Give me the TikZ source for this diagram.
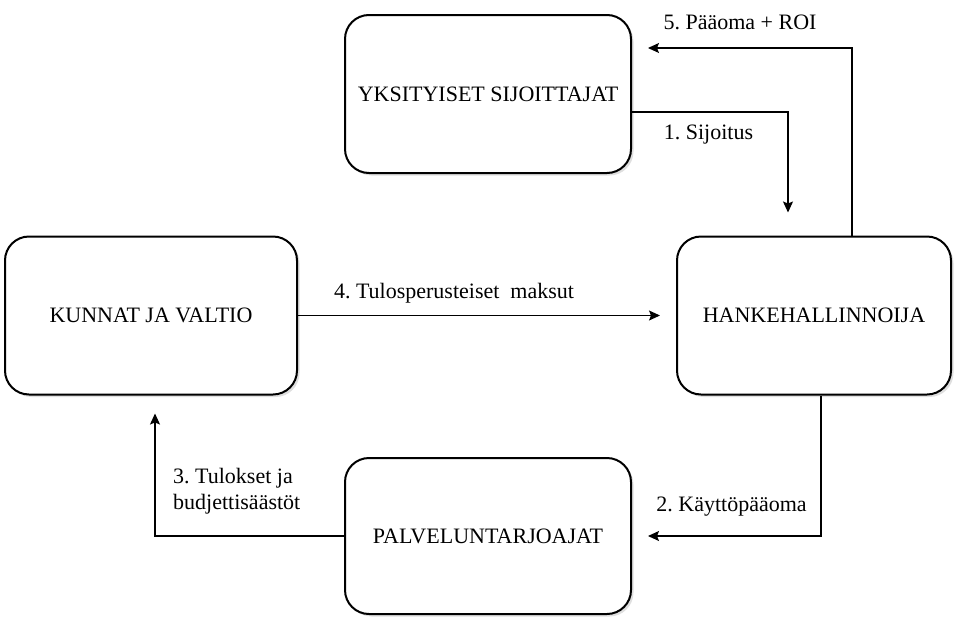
\documentclass[tikz,border=0pt]{standalone}
\usepackage{fontspec}
\setmainfont{Liberation Serif}
\usetikzlibrary{arrows.meta,shadows}
\frenchspacing
\begin{document}
\begin{tikzpicture}[x=1pt,y=-1pt,
  box/.style={draw,line width=2pt,rounded corners=24pt,fill=white,
    drop shadow={shadow xshift=2.5pt,shadow yshift=-2.5pt,opacity=0.25},
    font=\fontsize{22}{26}\selectfont,inner sep=0pt},
  arr/.style={line width=1.2pt,-{Stealth[length=11pt,width=10pt,inset=2pt]}},
  lbl/.style={font=\fontsize{22}{26}\selectfont,inner sep=0pt}]
\useasboundingbox (0,0) rectangle (955,616);
\node[box,minimum width=286pt,minimum height=158pt] (Y) at (488,94) {YKSITYISET SIJOITTAJAT};
\node[box,minimum width=292pt,minimum height=158pt] (K) at (151,315.5) {KUNNAT JA VALTIO};
\node[box,minimum width=274pt,minimum height=158pt] (H) at (814,315.5) {HANKEHALLINNOIJA};
\node[box,minimum width=286pt,minimum height=156pt] (P) at (488,536) {PALVELUNTARJOAJAT};
\coordinate (j1) at (788,112);
\coordinate (j5) at (852,48);
\coordinate (j2) at (821,536);
\coordinate (j3) at (155,536);
\draw[arr] (Y.east |- j1) -| ([yshift=23pt]H.north -| j1);
\draw[arr] (H.north -| j5) |- ([xshift=16pt]Y.east |- j5);
\draw[arr] (K.east) -- ([xshift=-16pt]H.west);
\draw[arr] (H.south -| j2) |- ([xshift=16pt]P.east);
\draw[arr] (P.west) -| ([yshift=-18pt]K.south -| j3);
\node[lbl] (l5) at (740,22) {5. Pääoma + ROI};
\node[lbl] (l1) at (708.5,135) {1. Sijoitus};
\node[lbl] (l4) at (454,293) {4. Tulosperusteiset\ \ maksut};
\node[lbl] (l2) at (731.5,507) {2. Käyttöpääoma};
\node[lbl,anchor=west,align=left] (l3) at (173,491.5) {3. Tulokset ja\\budjettisäästöt};
\end{tikzpicture}
\end{document}
